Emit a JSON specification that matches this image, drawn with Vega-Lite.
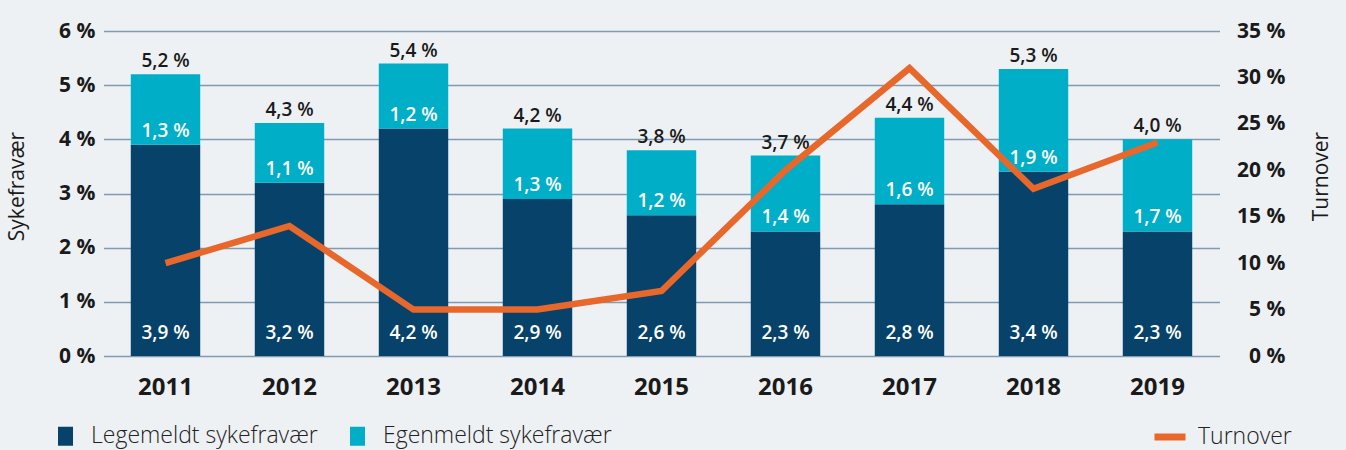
{
  "$schema": "https://vega.github.io/schema/vega-lite/v6.json",
  "width": 1116,
  "height": 325,
  "autosize": {"type": "none"},
  "padding": {"left": 103.5, "top": 31, "right": 126.5, "bottom": 94},
  "background": "#eef1f4",
  "config": {
    "locale": {"number": {"decimal": ",", "thousands": " ", "grouping": [3], "currency": ["", " kr"], "percent": " %"}},
    "view": {"stroke": null},
    "font": "Open Sans"
  },
  "data": {
    "values": [
      {"year": "2011", "Legemeldt sykefravær": 0.039, "Egenmeldt sykefravær": 0.013, "total": 0.052, "turnover": 0.10},
      {"year": "2012", "Legemeldt sykefravær": 0.032, "Egenmeldt sykefravær": 0.011, "total": 0.043, "turnover": 0.14},
      {"year": "2013", "Legemeldt sykefravær": 0.042, "Egenmeldt sykefravær": 0.012, "total": 0.054, "turnover": 0.05},
      {"year": "2014", "Legemeldt sykefravær": 0.029, "Egenmeldt sykefravær": 0.013, "total": 0.042, "turnover": 0.05},
      {"year": "2015", "Legemeldt sykefravær": 0.026, "Egenmeldt sykefravær": 0.012, "total": 0.038, "turnover": 0.07},
      {"year": "2016", "Legemeldt sykefravær": 0.023, "Egenmeldt sykefravær": 0.014, "total": 0.037, "turnover": 0.20},
      {"year": "2017", "Legemeldt sykefravær": 0.028, "Egenmeldt sykefravær": 0.016, "total": 0.044, "turnover": 0.31},
      {"year": "2018", "Legemeldt sykefravær": 0.034, "Egenmeldt sykefravær": 0.019, "total": 0.053, "turnover": 0.18},
      {"year": "2019", "Legemeldt sykefravær": 0.023, "Egenmeldt sykefravær": 0.017, "total": 0.040, "turnover": 0.23}
    ]
  },
  "layer": [
    {
      "layer": [
        {
          "transform": [{"fold": ["Legemeldt sykefravær", "Egenmeldt sykefravær"], "as": ["type", "value"]}],
          "mark": {"type": "bar"},
          "encoding": {
            "x": {
              "field": "year", "type": "ordinal",
              "scale": {"paddingInner": 0.44, "paddingOuter": 0.22},
              "axis": {"title": null, "domain": false, "ticks": false, "labelAngle": 0, "labelPadding": 19, "labelFontSize": 24, "labelFontWeight": "bold", "labelColor": "#1a1a1a"}
            },
            "y": {
              "field": "value", "type": "quantitative", "stack": "zero",
              "scale": {"domain": [0, 0.06]},
              "axis": {
                "title": "Sykefravær", "values": [0, 0.01, 0.02, 0.03, 0.04, 0.05, 0.06], "format": ".0%",
                "grid": true, "gridColor": "#7f9bb1", "gridWidth": 1.5, "domain": false, "ticks": false,
                "labelPadding": 8.5, "labelFontSize": 21, "labelFontWeight": "bold", "labelColor": "#1a1a1a",
                "titleFontSize": 21, "titleFontWeight": "normal", "titleColor": "#1a1a1a",
                "titleAngle": -90, "titleX": -86, "titleY": 155, "titleAlign": "center", "titleBaseline": "middle"
              }
            },
            "color": {
              "field": "type", "type": "nominal",
              "scale": {"domain": ["Legemeldt sykefravær", "Egenmeldt sykefravær"], "range": ["#06426a", "#00aec7"]},
              "legend": {
                "title": null, "orient": "none", "legendX": -49.5, "legendY": 393.5, "direction": "horizontal",
                "symbolType": "M-0.79,-1H0.79V1H-0.79Z", "symbolSize": 361, "symbolStrokeWidth": 0, "symbolOpacity": 1,
                "labelFontSize": 23, "labelFontWeight": 300, "labelColor": "#222222", "labelOffset": 14, "labelLimit": 0,
                "columnPadding": 28, "padding": 0
              }
            },
            "order": {"field": "type", "sort": "descending"}
          }
        },
        {
          "mark": {"type": "text", "color": "#ffffff", "fontSize": 19, "fontWeight": 600, "baseline": "middle", "dy": -23},
          "encoding": {
            "x": {"field": "year", "type": "ordinal"},
            "y": {"datum": 0},
            "text": {"field": "Legemeldt sykefravær", "type": "quantitative", "format": ".1%"}
          }
        },
        {
          "mark": {"type": "text", "color": "#ffffff", "fontSize": 19, "fontWeight": 600, "baseline": "middle", "dy": -14},
          "encoding": {
            "x": {"field": "year", "type": "ordinal"},
            "y": {"field": "Legemeldt sykefravær", "type": "quantitative"},
            "text": {"field": "Egenmeldt sykefravær", "type": "quantitative", "format": ".1%"}
          }
        },
        {
          "mark": {"type": "text", "color": "#1a1a1a", "fontSize": 19, "fontWeight": 600, "baseline": "middle", "dy": -13},
          "encoding": {
            "x": {"field": "year", "type": "ordinal"},
            "y": {"field": "total", "type": "quantitative"},
            "text": {"field": "total", "type": "quantitative", "format": ".1%"}
          }
        }
      ]
    },
    {
      "mark": {"type": "line", "strokeWidth": 6.5, "strokeCap": "butt", "strokeJoin": "miter"},
      "encoding": {
        "x": {"field": "year", "type": "ordinal"},
        "y": {
          "field": "turnover", "type": "quantitative",
          "scale": {"domain": [0, 0.35]},
          "axis": {
            "orient": "right", "title": "Turnover", "values": [0, 0.05, 0.1, 0.15, 0.2, 0.25, 0.3, 0.35], "format": ".0%",
            "grid": false, "domain": false, "ticks": false,
            "labelAlign": "right", "labelPadding": 65.5, "labelFontSize": 21, "labelFontWeight": "bold", "labelColor": "#1a1a1a",
            "titleFontSize": 21, "titleFontWeight": "normal", "titleColor": "#1a1a1a",
            "titleAngle": -90, "titleX": 101.5, "titleY": 145, "titleAlign": "center", "titleBaseline": "middle"
          }
        },
        "stroke": {
          "datum": "Turnover", "type": "nominal",
          "scale": {"range": ["#e8672b"]},
          "legend": {
            "title": null, "orient": "none", "legendX": 1047.5, "legendY": 387,
            "symbolType": "stroke", "symbolSize": 961, "symbolStrokeWidth": 7,
            "labelFontSize": 23, "labelFontWeight": 300, "labelColor": "#222222", "labelOffset": 9, "labelLimit": 0, "padding": 0
          }
        }
      }
    }
  ],
  "resolve": {"scale": {"y": "independent"}}
}
